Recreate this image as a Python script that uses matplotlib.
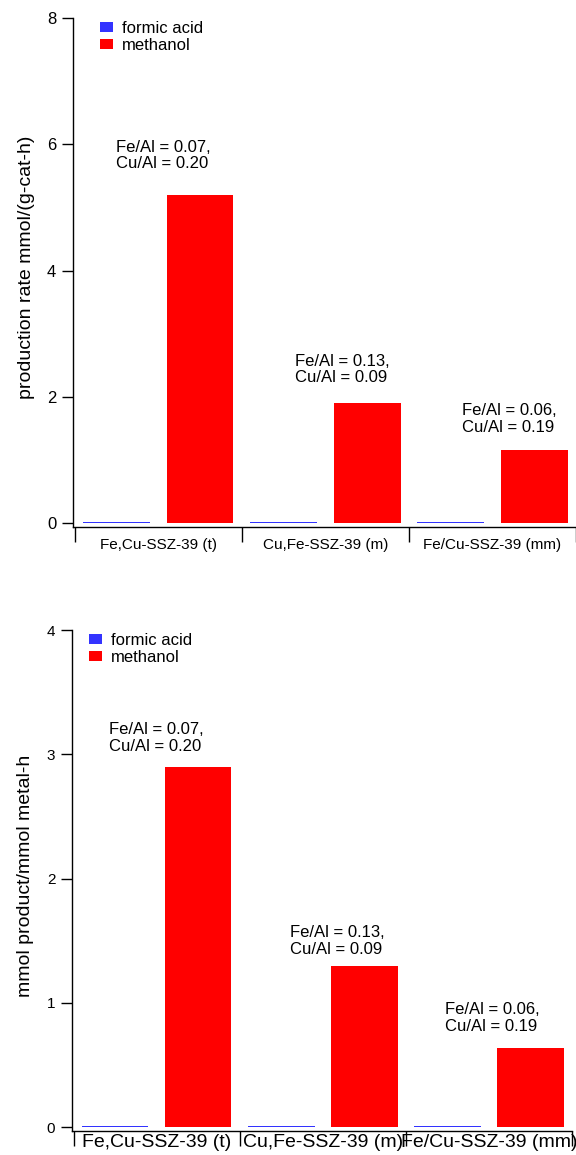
import matplotlib
matplotlib.use("Agg")
import matplotlib.pyplot as plt
import numpy as np

plt.rcParams['font.family'] = ['Liberation Sans', 'DejaVu Sans']

categories = ["Fe,Cu-SSZ-39 (t)", "Cu,Fe-SSZ-39 (m)", "Fe/Cu-SSZ-39 (mm)"]
series_names = ["formic acid", "methanol"]
ratio_labels = ["Fe/Al = 0.07,\nCu/Al = 0.20",
                "Fe/Al = 0.13,\nCu/Al = 0.09",
                "Fe/Al = 0.06,\nCu/Al = 0.19"]

# production rate, mmol/(g-cat-h)
formic_rate = [0.02, 0.02, 0.02]
methanol_rate = [5.19, 1.90, 1.16]

# mmol product / mmol metal-h
formic_metal = [0.01, 0.01, 0.01]
methanol_metal = [2.90, 1.30, 0.64]

# where the ratio notes sit (data coords)
top_note_x = [-0.25, 0.82, 1.82]
top_note_y = [5.82, 2.43, 1.65]
bot_note_x = [-0.29, 0.80, 1.735]
bot_note_y = [3.13, 1.50, 0.88]


def draw_panel(ax, formic, methanol, ylim, yticks, ylabel, note_x, note_y,
               tick_fs, cat_fs, cat_pad, xlim, leg_x):
    x = np.arange(len(categories))
    b1 = ax.bar(x - 0.25, formic, width=0.4, color='#3333ff', linewidth=0)
    b2 = ax.bar(x + 0.25, methanol, width=0.4, color='#ff0000', linewidth=0)

    ax.set_xlim(*xlim)
    ax.set_ylim(*ylim)
    ax.set_yticks(yticks)
    ax.set_yticklabels([str(t) for t in yticks], fontsize=tick_fs)
    ax.tick_params(axis='y', direction='out', length=8, width=1, pad=4)

    # category boundaries as major ticks, names on minor ticks
    ax.set_xticks(np.arange(-0.5, len(categories), 1.0))
    ax.set_xticklabels([])
    ax.set_xticks(x, minor=True)
    ax.set_xticklabels(categories, minor=True, fontsize=cat_fs)
    ax.tick_params(axis='x', which='major', direction='out', length=11, width=1)
    ax.tick_params(axis='x', which='minor', length=0, pad=cat_pad)

    for s in ['top', 'right']:
        ax.spines[s].set_visible(False)
    for s in ['left', 'bottom']:
        ax.spines[s].set_linewidth(1)

    ax.set_ylabel(ylabel, fontsize=14)
    ax.yaxis.set_label_coords(-0.076, 0.51)

    for tx, ty, t in zip(note_x, note_y, ratio_labels):
        ax.text(tx, ty, t, ha='left', va='center', fontsize=12, linespacing=1.12)

    ax.legend([b1, b2], series_names, loc='upper left', bbox_to_anchor=(leg_x, 0.994),
              frameon=False, fontsize=12, borderpad=0, borderaxespad=0,
              handlelength=0.8, handleheight=0.55, handletextpad=0.5,
              labelspacing=0.1)


fig = plt.figure(figsize=(5.76, 11.55), dpi=100)

ax1 = fig.add_axes([73 / 576, 1 - 527 / 1155, 503 / 576, 509 / 1155])
draw_panel(ax1, formic_rate, methanol_rate, (-0.06, 8), [0, 2, 4, 6, 8],
           "production rate mmol/(g-cat-h)", top_note_x, top_note_y,
           12, 11, 8, (-0.51, 2.49), 0.054)

ax2 = fig.add_axes([72 / 576, 1 - 1131 / 1155, 500 / 576, 501 / 1155])
draw_panel(ax2, formic_metal, methanol_metal, (-0.03, 4), [0, 1, 2, 3, 4],
           "mmol product/mmol metal-h", bot_note_x, bot_note_y,
           11, 14, 2.5, (-0.51, 2.5), 0.034)

fig.savefig("out.png", dpi=100)
